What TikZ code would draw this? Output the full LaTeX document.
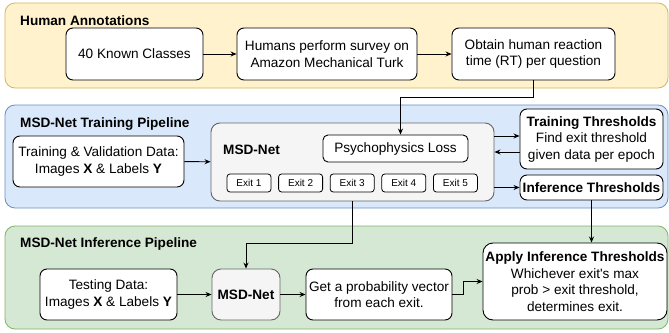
\documentclass[tikz,border=0pt]{standalone}
\usepackage{fontspec}
\setmainfont{Liberation Sans}
\usetikzlibrary{positioning}
\usetikzlibrary{arrows.meta}
\definecolor{ylwfill}{HTML}{FFF2CC}
\definecolor{ylwdraw}{HTML}{D6B656}
\definecolor{blufill}{HTML}{DAE8FC}
\definecolor{bludraw}{HTML}{6C8EBF}
\definecolor{grnfill}{HTML}{D5E8D4}
\definecolor{grndraw}{HTML}{82B366}
\definecolor{gryfill}{HTML}{F5F5F5}
\definecolor{grydraw}{HTML}{666666}
\tikzset{
    panely/.style = {rectangle, rounded corners=10pt, draw=ylwdraw, fill=ylwfill, line width=0.8pt, minimum width=663pt, minimum height=85pt, inner sep=0pt},
    panelb/.style = {rectangle, rounded corners=10pt, draw=bludraw, fill=blufill, line width=0.8pt, minimum width=663pt, minimum height=103pt, inner sep=0pt},
    panelg/.style = {rectangle, rounded corners=10pt, draw=grndraw, fill=grnfill, line width=0.8pt, minimum width=663pt, minimum height=103pt, inner sep=0pt},
    ptitle/.style = {anchor=west, inner sep=0pt, font=\fontsize{13.6}{16.5}\selectfont\bfseries},
    mybox/.style = {rectangle, rounded corners=7pt, draw=black, fill=white, line width=0.9pt, align=center, inner sep=1pt},
    myboxg/.style = {rectangle, rounded corners=9pt, draw=grydraw, fill=gryfill, line width=0.9pt, align=center, inner sep=1pt},
    exitbox/.style = {rectangle, rounded corners=3pt, draw=black, fill=white, line width=0.8pt, minimum width=44pt, minimum height=18pt, inner sep=0pt, font=\fontsize{10}{12}\selectfont},
    edgen/.style = {-{Stealth[length=6pt,width=5pt]}, line width=0.9pt, black}
}

\begin{document}
\begin{tikzpicture}[x=1pt,y=-1pt,font=\fontsize{13.6}{16.5}\selectfont]
\useasboundingbox (0,0) rectangle (669,332);
%
\node[panely] at (336.5,45.5) (ha) {};
\node[panelb] at (336.5,156.5) (tp) {};
\node[panelg] at (336.5,277.5) (ip) {};
\node[ptitle] at (20,21) (hat) {Human Annotations};
\node[ptitle] at (20,124) (tpt) {MSD-Net Training Pipeline};
\node[ptitle] at (20,244) (ipt) {MSD-Net Inference Pipeline};
%
\node[mybox, minimum width=137pt, minimum height=52pt] at (134.5,54) (known) {40 Known Classes};
\node[mybox, minimum width=180pt, minimum height=52pt] at (327,54) (survey) {Humans perform survey on\\Amazon Mechanical Turk};
\node[mybox, minimum width=163pt, minimum height=52pt] at (533.5,54) (rt) {Obtain human reaction\\time (RT) per question};
%
\node[mybox, minimum width=171pt, minimum height=51pt] at (98.5,161.5) (tvdata) {Training \& Validation Data:\\Images \textbf{X} \& Labels \textbf{Y}};
\node[myboxg, minimum width=283pt, minimum height=78pt] at (352.5,162) (msd) {};
\node[anchor=west, inner sep=0pt, font=\fontsize{13.6}{16.5}\selectfont\bfseries] at (223,150) (msdt) {MSD-Net};
\node[mybox, rounded corners=5pt, minimum width=145pt, minimum height=27pt] at (395.5,148.5) (loss) {Psychophysics Loss};
\foreach \i in {1,...,5}
  \node[exitbox] at ({249+51.6*(\i-1)},183) (ex\i) {Exit \i};
\node[mybox, minimum width=143pt, minimum height=60pt] at (591.5,139) (tt) {\textbf{Training Thresholds}\\Find exit threshold\\given data per epoch};
\node[mybox, minimum width=143pt, minimum height=25pt] at (591.5,187.5) (it) {\textbf{Inference Thresholds}};
%
\node[mybox, minimum width=137pt, minimum height=51pt] at (108.5,294.5) (testdata) {Testing Data:\\Images \textbf{X} \& Labels \textbf{Y}};
\node[myboxg, minimum width=68pt, minimum height=51pt, font=\fontsize{13.6}{16.5}\selectfont\bfseries] at (246,294.5) (imsd) {MSD-Net};
\node[mybox, minimum width=146pt, minimum height=51pt] at (379,294.5) (prob) {Get a probability vector\\from each exit.};
\node[mybox, rounded corners=10pt, minimum width=184pt, minimum height=77pt] at (575,281.5) (apply) {\textbf{Apply Inference Thresholds}\\Whichever exit\textquotesingle s max\\prob > exit threshold,\\determines exit.};
%
\draw[edgen] (known) edge node {} (survey);
\draw[edgen] (survey) edge node {} (rt);
\draw[edgen] (rt.south) -- ++(0,17) -| ([xshift=5pt]loss.north);
\draw[edgen] (tvdata) edge node {} (msd);
\draw[edgen] ([yshift=26pt]msd.east) -- ([yshift=26pt]msd.east -| tt.west);
\draw[edgen] ([yshift=10pt]msd.east -| tt.west) -- ([yshift=10pt]msd.east);
\draw[edgen] (msd.east |- it.west) -- (it.west);
\draw[edgen] (msd.south) -- ++(0,42) -| (imsd.north);
\draw[edgen] (it.south) -- (it.south |- apply.north);
\draw[edgen] (testdata) edge node {} (imsd);
\draw[edgen] (imsd) edge node {} (prob);
\draw[edgen] (prob.east) -- ++(11,0) |- (apply.west);
\end{tikzpicture}
\end{document}
